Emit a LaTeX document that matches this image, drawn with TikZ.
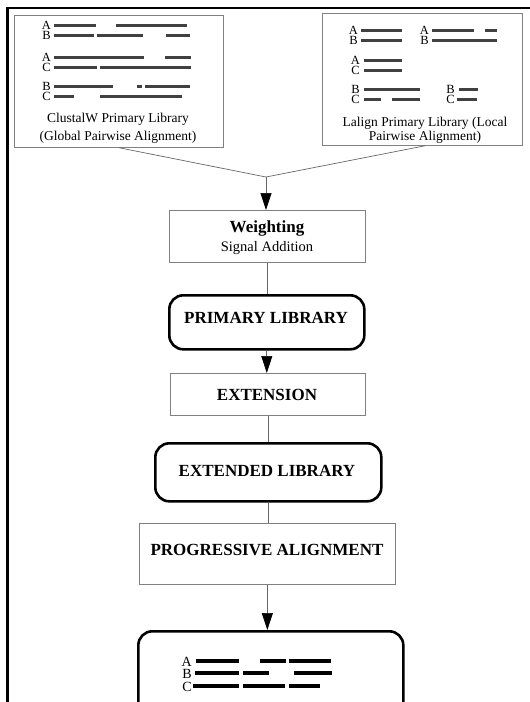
\documentclass[tikz,border=0pt]{standalone}
\usepackage{fontspec}
\setmainfont{Liberation Serif}
\usetikzlibrary{arrows.meta}
\begin{document}
\begin{tikzpicture}[x=1pt,y=-1pt,
  thinbox/.style={draw=black!50, line width=0.7pt, inner sep=0pt, anchor=north west},
  libbox/.style={draw=black, line width=2.6pt, rounded corners=14pt, inner sep=0pt, anchor=north west},
  seq/.style={line width=3pt, draw=black!75},
  seqf/.style={line width=3.6pt, draw=black},
  lett/.style={inner sep=0pt, anchor=east, align=right, font=\fontsize{12.5}{10}\selectfont},
  lab/.style={font=\fontsize{13.5}{18}\selectfont, align=center, inner sep=0pt},
  ttl/.style={font=\fontsize{17}{19}\bfseries\selectfont, inner sep=0pt},
  conn/.style={draw=black!60, line width=0.7pt},
  arr/.style={conn, -{Triangle[length=17pt,width=11pt,color=black]}}]
\useasboundingbox (0,0) rectangle (530,702);
\clip (0,0) rectangle (530,702);
% outer frame
\draw[line width=2.5pt] (7.5,702) -- (7.5,8) -- (530,8);

% ClustalW box
\node[thinbox, minimum width=209pt, minimum height=132pt] (cw) at (14,15) {};
\node[lett] (cwl1) at (51,30) {A\\B};
\node[lett] (cwl2) at (51,62) {A\\C};
\node[lett] (cwl3) at (51,91) {B\\C};
\draw[seq] (54,25) -- (96,25) (116,25) -- (187,25);
\draw[seq] (54,35) -- (94,35) (97,35) -- (143,35) (166,35) -- (190,35);
\draw[seq] (54,57) -- (144,57) (165,57) -- (191,57);
\draw[seq] (54,67) -- (97,67) (100,67) -- (191,67);
\draw[seq] (54,86) -- (113,86) (137,86) -- (142,86) (145,86) -- (190,86);
\draw[seq] (54,96) -- (74,96) (100,96) -- (182,96);
\node[lab] (cwlab) at (118,128) {ClustalW Primary Library\\(Global Pairwise Alignment)};

% Lalign box
\node[thinbox, minimum width=200pt, minimum height=132pt] (la) at (322,13) {};
\node[lett] (la1) at (358,35) {A\\B};
\node[lett] (la2) at (429,35) {A\\B};
\node[lett] (la3) at (360,65) {A\\C};
\node[lett] (la4) at (360,94) {B\\C};
\node[lett] (la5) at (455,94) {B\\C};
\draw[seq] (361,30) -- (402,30) (361,40) -- (402,40);
\draw[seq] (432,30) -- (474,30) (485,30) -- (497,30) (432,40) -- (497,40);
\draw[seq] (364,60) -- (402,60) (364,70) -- (402,70);
\draw[seq] (364,89) -- (420,89) (364,99) -- (381,99) (392,99) -- (420,99);
\draw[seq] (459,89) -- (478,89) (457,99) -- (477,99);
\node[lab, font=\fontsize{13.5}{14}\selectfont] (lalab) at (425,130) {Lalign Primary Library (Local\\Pairwise Alignment)};

% flow boxes
\node[thinbox, minimum width=196pt, minimum height=52pt] (wt) at (169,210) {};
\node[ttl] (wtt) at (267,228) {Weighting};
\node[font=\fontsize{14.5}{16}\selectfont, inner sep=0pt] (wts) at (267,248) {Signal Addition};

\node[libbox, minimum width=195pt, minimum height=54pt] (pl) at (168,294) {};
\node[ttl] (plt) at (266,318) {PRIMARY LIBRARY};

\node[thinbox, minimum width=195pt, minimum height=42pt] (ex) at (170,373) {};
\node[ttl] (ext) at (267,395) {EXTENSION};

\node[libbox, minimum width=226pt, minimum height=58pt] (el) at (154,442) {};
\node[ttl] (elt) at (267,471) {EXTENDED LIBRARY};

\node[thinbox, minimum width=256pt, minimum height=61pt] (pa) at (139,523) {};
\node[ttl] (pat) at (267,550) {PROGRESSIVE ALIGNMENT};

\node[libbox, minimum width=265pt, minimum height=140pt] (fin) at (137,630) {};
\node[lett, font=\fontsize{14}{12.5}\selectfont] (fl) at (192,674) {A\\B\\C};
\draw[seqf] (196,661) -- (239,661) (260,661) -- (286,661) (289,661) -- (331,661);
\draw[seqf] (195,673) -- (239,673) (243,673) -- (269,673) (294,673) -- (332,673);
\draw[seqf] (193,686) -- (239,686) (243,686) -- (285,686) (289,686) -- (320,686);

% connectors
\coordinate (j) at (266,177);
\draw[conn] (cw.south) -- (j);
\draw[conn] ([xshift=3pt]la.south) -- (j);
\draw[arr] (j) -- (j |- wt.north);
\draw[conn] (wt.south) -- (wt.south |- pl.north);
\draw[arr] (pl.south) -- (pl.south |- ex.north);
\draw[conn] (ex.south) -- (ex.south |- el.north);
\draw[conn] (el.south) -- (el.south |- pa.north);
\draw[arr] (pa.south) -- (pa.south |- fin.north);
\end{tikzpicture}
\end{document}
